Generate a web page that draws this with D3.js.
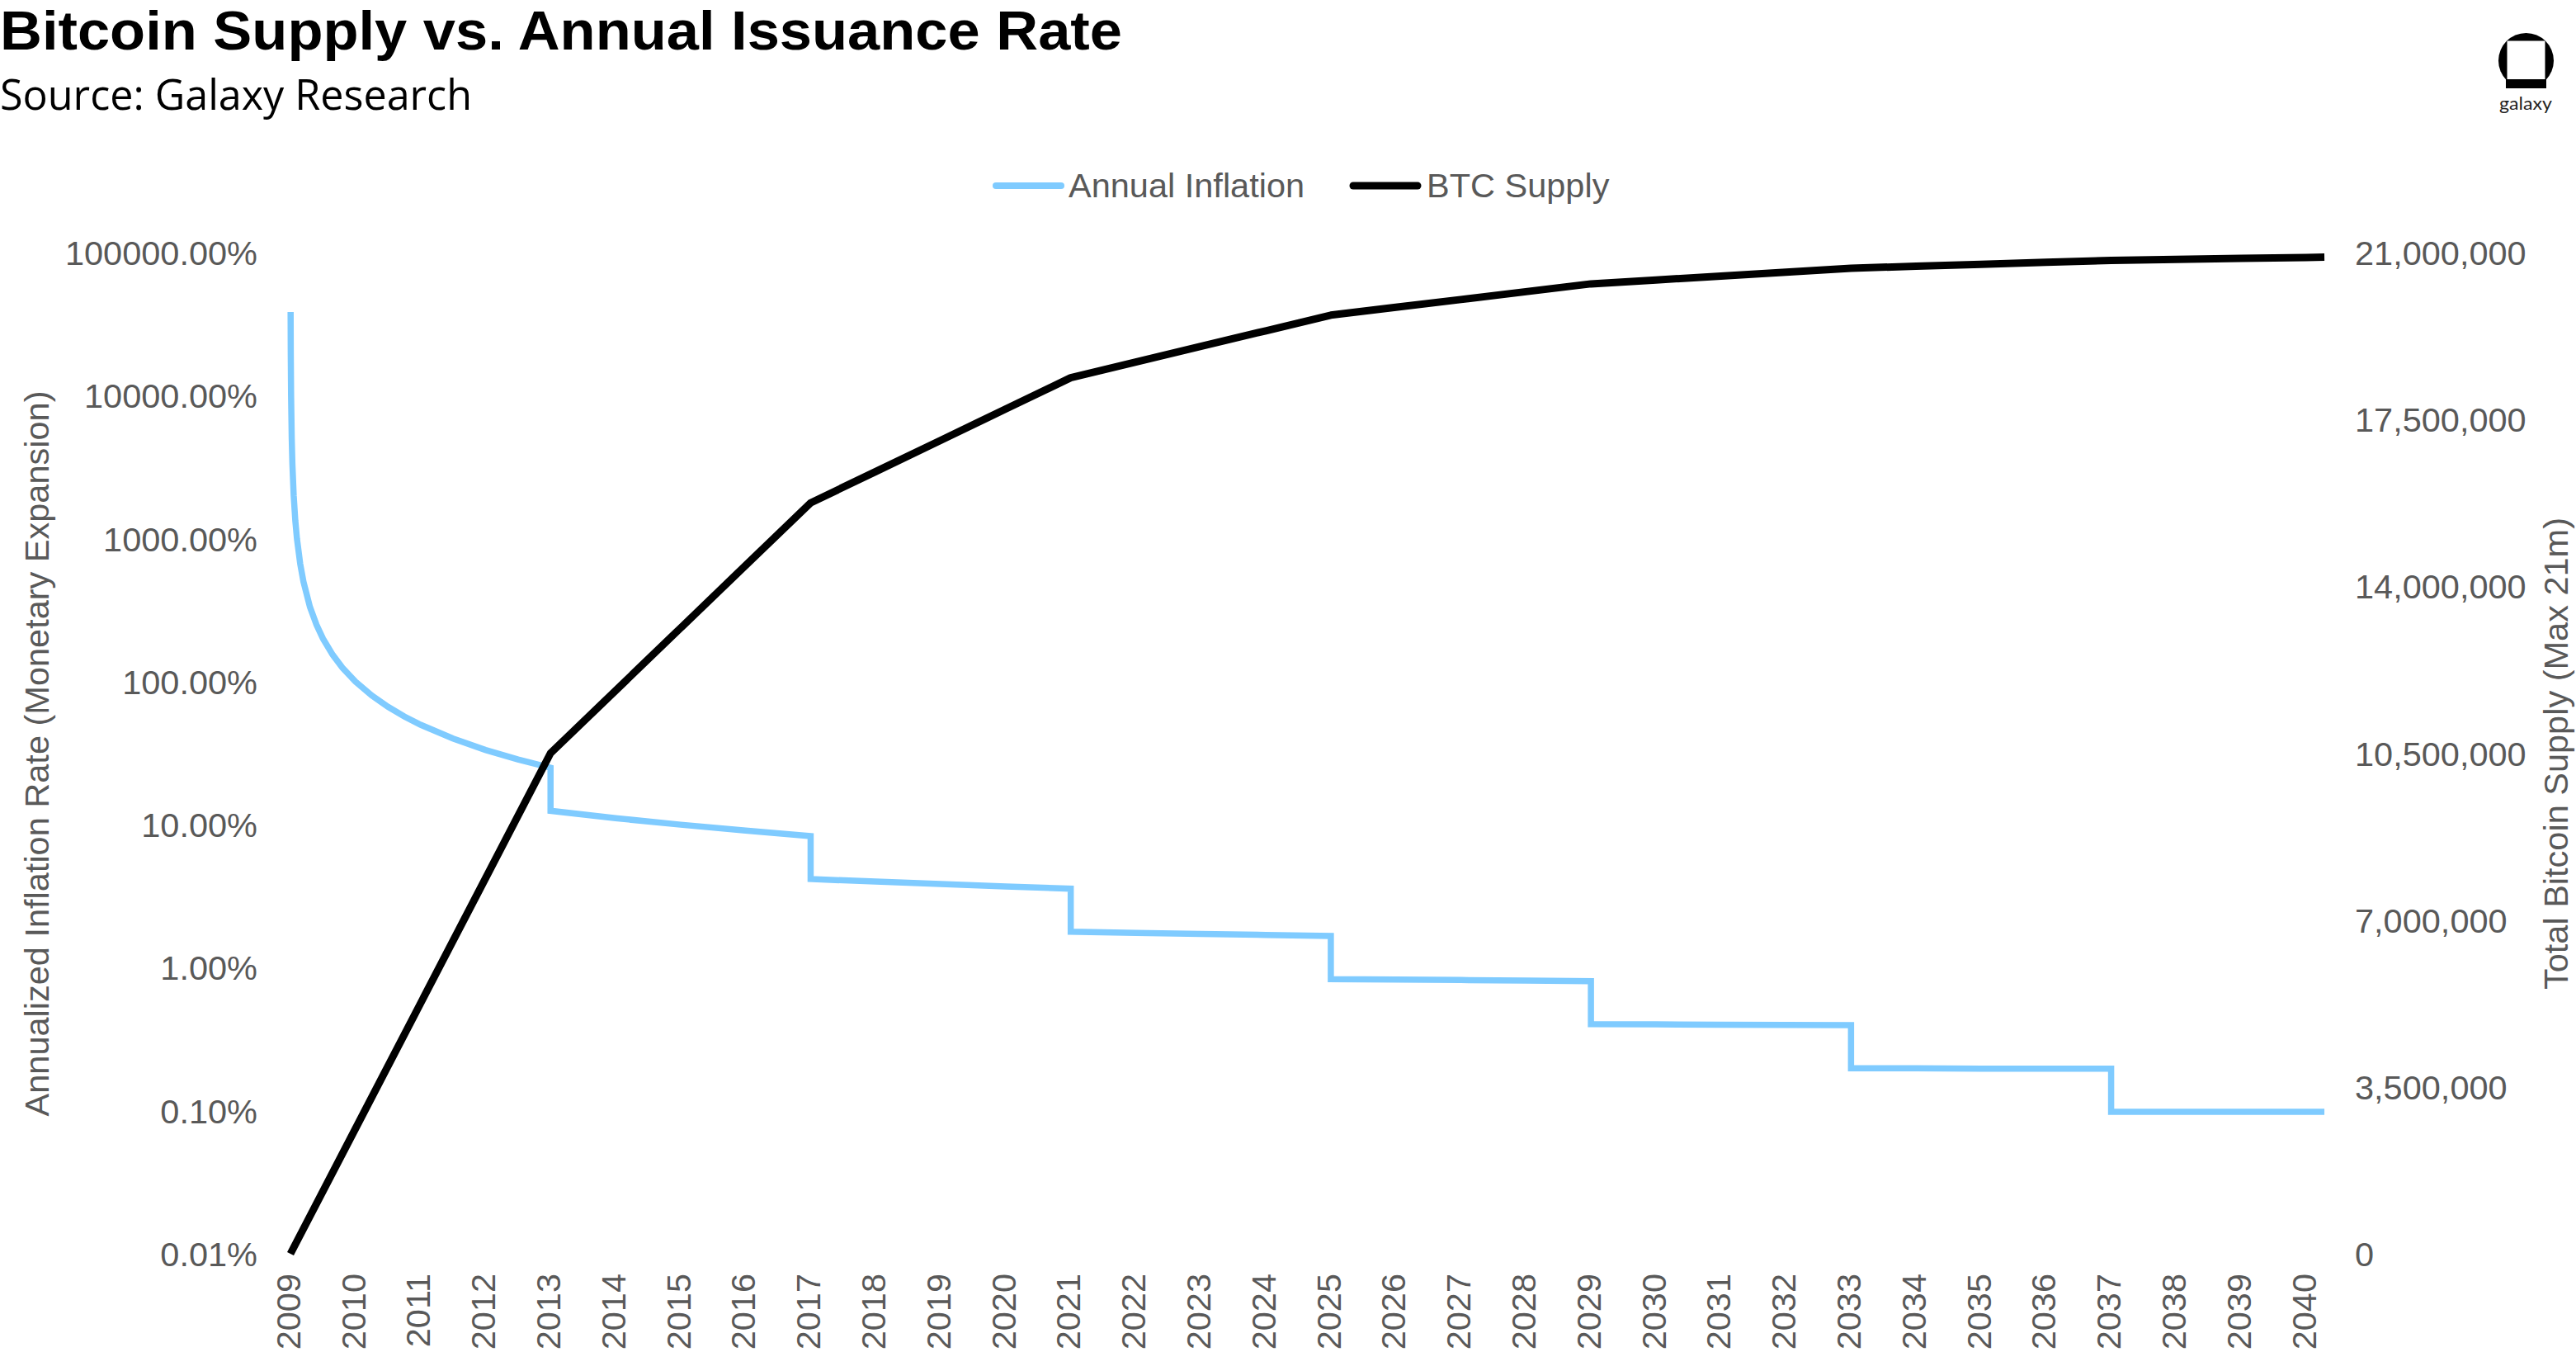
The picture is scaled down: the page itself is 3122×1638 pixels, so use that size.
<!DOCTYPE html>
<html>
<head>
<meta charset="utf-8">
<script src="https://cdn.jsdelivr.net/npm/d3@7"></script>
<style>
  html, body { margin: 0; padding: 0; background: #ffffff; }
  svg { display: block; }
</style>
</head>
<body>
<svg id="chart" width="3122" height="1638"></svg>
<script>
// ---------------- DATA ----------------
const yearTicks = [2009, 2010, 2011, 2012, 2013, 2014, 2015, 2016, 2017, 2018, 2019, 2020,
  2021, 2022, 2023, 2024, 2025, 2026, 2027, 2028, 2029, 2030, 2031, 2032, 2033, 2034,
  2035, 2036, 2037, 2038, 2039, 2040];
const yearLabels = ["2009", "2010", "2011", "2012", "2013", "2014", "2015", "2016", "2017",
  "2018", "2019", "2020", "2021", "2022", "2023", "2024", "2025", "2026", "2027", "2028",
  "2029", "2030", "2031", "2032", "2033", "2034", "2035", "2036", "2037", "2038", "2039", "2040"];

// BTC supply (coins) by date (fractional year)
const supplyDates = [2009, 2010, 2011, 2012, 2013, 2014, 2015, 2016, 2017, 2018, 2019, 2020,
  2021, 2022, 2023, 2024, 2025, 2026, 2027, 2028, 2029, 2030, 2031, 2032, 2033, 2034,
  2035, 2036, 2037, 2038, 2039, 2040, 2040.28];
const supplyValues = [0, 2625000, 5250000, 7875000, 10500000, 11812500, 13125000, 14437500,
  15750000, 16406250, 17062500, 17718750, 18375000, 18703125, 19031250, 19359375,
  19687500, 19851563, 20015625, 20179688, 20343750, 20425781, 20507813, 20589844,
  20671875, 20712891, 20753906, 20794922, 20835938, 20856445, 20876953, 20897461, 20903200];

// Annualized inflation rate (%) by date (fractional year); repeated dates are halving steps
const inflationDates = [2009.0026, 2009.005, 2009.01, 2009.02, 2009.03, 2009.05, 2009.075,
  2009.1, 2009.15, 2009.2, 2009.3, 2009.4, 2009.5, 2009.65, 2009.8, 2010.0, 2010.25,
  2010.5, 2010.75, 2011.0, 2011.5, 2012.0, 2012.5, 2013.0,
  2013.0, 2014.0, 2015.0, 2016.0, 2017.0,
  2017.0, 2018.0, 2019.0, 2020.0, 2021.0,
  2021.0, 2022.0, 2023.0, 2024.0, 2025.0,
  2025.0, 2026.0, 2027.0, 2028.0, 2029.0,
  2029.0, 2030.0, 2031.0, 2032.0, 2033.0,
  2033.0, 2034.0, 2035.0, 2036.0, 2037.0,
  2037.0, 2038.0, 2039.0, 2040.0, 2040.28];
const inflationPct = [38400, 20000, 10000, 5000, 3333, 2000, 1333,
  1000, 667, 500, 333, 250, 200, 154, 125, 100, 80,
  66.7, 57.1, 50, 40, 33.3, 28.6, 25,
  12.5, 11.1, 10.0, 9.09, 8.33,
  4.17, 4.0, 3.85, 3.70, 3.57,
  1.786, 1.754, 1.724, 1.695, 1.667,
  0.833, 0.826, 0.820, 0.813, 0.806,
  0.403, 0.402, 0.400, 0.398, 0.397,
  0.198, 0.198, 0.197, 0.197, 0.197,
  0.0984, 0.0984, 0.0983, 0.0983, 0.0982];

const leftTicks = [0.01, 0.1, 1, 10, 100, 1000, 10000, 100000];
const leftTickLabels = ["0.01%", "0.10%", "1.00%", "10.00%", "100.00%", "1000.00%", "10000.00%", "100000.00%"];
const rightTicks = [0, 3500000, 7000000, 10500000, 14000000, 17500000, 21000000];
const rightTickLabels = ["0", "3,500,000", "7,000,000", "10,500,000", "14,000,000", "17,500,000", "21,000,000"];

const seriesNames = ["Annual Inflation", "BTC Supply"];
const seriesColors = ["#7FCBFF", "#000000"];

// ---------------- CHART ----------------
const svg = d3.select("#chart");
const FONT = "'Liberation Sans', Arial, Helvetica, sans-serif";
const GRAY = "#595959";
const FS = 41.5;

const x = d3.scaleLinear().domain([2009, 2040]).range([352, 2795]);
const yL = d3.scaleLog().domain([0.01, 100000]).range([1519, 306]);
const yR = d3.scaleLinear().domain([0, 21000000]).range([1519, 306]);

// Title & subtitle
svg.append("text")
  .attr("x", 0).attr("y", 60)
  .attr("textLength", 1360).attr("lengthAdjust", "spacingAndGlyphs")
  .style("font-family", FONT)
  .style("font-weight", 700).style("font-size", "66px").attr("fill", "#000")
  .text("Bitcoin Supply vs. Annual Issuance Rate");
svg.append("text")
  .attr("x", 0).attr("y", 133)
  .attr("textLength", 572).attr("lengthAdjust", "spacingAndGlyphs")
  .style("font-family", "'Open Sans', 'Noto Sans', sans-serif")
  .style("font-weight", 400).style("font-size", "52px").attr("fill", "#000")
  .text("Source: Galaxy Research");

// Logo
const logo = svg.append("g");
logo.append("circle").attr("cx", 3061.5).attr("cy", 73.5).attr("r", 33.5).attr("fill", "#000");
logo.append("rect").attr("x", 3037).attr("y", 96).attr("width", 49).attr("height", 11).attr("fill", "#000");
logo.append("rect").attr("x", 3038.5).attr("y", 49.5).attr("width", 46).attr("height", 46.5).attr("fill", "#fff");
logo.append("text").attr("x", 3061).attr("y", 133).attr("text-anchor", "middle")
  .attr("textLength", 64).attr("lengthAdjust", "spacingAndGlyphs")
  .style("font-family", "Lato, 'Open Sans', sans-serif").style("font-size", "21px")
  .attr("fill", "#222").text("galaxy");

// Axes
function styleAxis(g) {
  g.select(".domain").remove();
  g.attr("font-family", null).attr("font-size", null);
  g.selectAll("text").style("font-family", FONT).style("font-size", FS + "px").attr("fill", GRAY);
}

const leftAxis = svg.append("g").attr("transform", "translate(312,0)")
  .call(d3.axisLeft(yL).tickValues(leftTicks)
    .tickFormat((d, i) => leftTickLabels[i]).tickSize(0).tickPadding(0));
styleAxis(leftAxis);
leftAxis.selectAll("text").attr("dy", "0.35em");

const rightAxis = svg.append("g").attr("transform", "translate(2854,0)")
  .call(d3.axisRight(yR).tickValues(rightTicks)
    .tickFormat((d, i) => rightTickLabels[i]).tickSize(0).tickPadding(0));
styleAxis(rightAxis);
rightAxis.selectAll("text").attr("dy", "0.35em");

const bottomAxis = svg.append("g").attr("transform", "translate(0,1543)")
  .call(d3.axisBottom(x).tickValues(yearTicks)
    .tickFormat((d, i) => yearLabels[i]).tickSize(0).tickPadding(0));
styleAxis(bottomAxis);
bottomAxis.selectAll("text")
  .attr("transform", "rotate(-90)")
  .attr("x", 0).attr("y", 0).attr("dy", "0.27em")
  .attr("text-anchor", "end");

// Axis titles
svg.append("text")
  .attr("transform", "translate(44,913) rotate(-90)")
  .attr("text-anchor", "middle").attr("dy", "0.35em")
  .style("font-family", FONT).style("font-size", FS + "px").attr("fill", GRAY)
  .text("Annualized Inflation Rate (Monetary Expansion)");
svg.append("text")
  .attr("transform", "translate(3097,913) rotate(-90)")
  .attr("text-anchor", "middle").attr("dy", "0.35em")
  .style("font-family", FONT).style("font-size", FS + "px").attr("fill", GRAY)
  .text("Total Bitcoin Supply (Max 21m)");

// Lines
const inflationData = inflationDates.map((d, i) => ({ t: d, v: inflationPct[i] }));
const supplyData = supplyDates.map((d, i) => ({ t: d, v: supplyValues[i] }));

svg.append("path")
  .datum(inflationData)
  .attr("fill", "none").attr("stroke", seriesColors[0]).attr("stroke-width", 7.5)
  .attr("stroke-linejoin", "miter").attr("stroke-linecap", "butt")
  .attr("d", d3.line().x(d => x(d.t)).y(d => yL(d.v)));

svg.append("path")
  .datum(supplyData)
  .attr("fill", "none").attr("stroke", seriesColors[1]).attr("stroke-width", 9)
  .attr("stroke-linejoin", "round").attr("stroke-linecap", "butt")
  .attr("d", d3.line().x(d => x(d.t)).y(d => yR(d.v)));

// Legend
const legendItems = [
  { name: seriesNames[0], color: seriesColors[0], x0: 1207, x1: 1286, tx: 1295, w: 8 },
  { name: seriesNames[1], color: seriesColors[1], x0: 1640, x1: 1718, tx: 1729, w: 9 }
];
const legend = svg.append("g");
legend.selectAll("line").data(legendItems).join("line")
  .attr("x1", d => d.x0).attr("x2", d => d.x1).attr("y1", 225).attr("y2", 225)
  .attr("stroke", d => d.color).attr("stroke-width", d => d.w).attr("stroke-linecap", "round");
legend.selectAll("text").data(legendItems).join("text")
  .attr("x", d => d.tx).attr("y", 225).attr("dy", "0.33em")
  .style("font-family", FONT).style("font-size", FS + "px").attr("fill", GRAY)
  .text(d => d.name);
</script>
</body>
</html>
